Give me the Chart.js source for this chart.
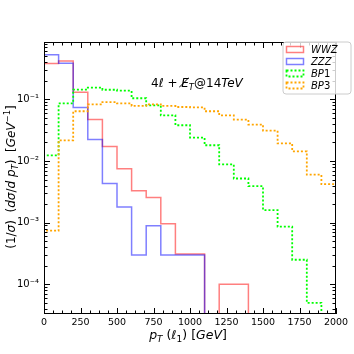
<!DOCTYPE html>
<html>
<head>
<meta charset="utf-8">
<script src="https://cdn.jsdelivr.net/npm/chart.js@4.4.0/dist/chart.umd.min.js"></script>
<style>
  body { margin: 0; background: #fff; }
  #wrap { width: 354px; height: 354px; }
</style>
</head>
<body>
<div id="wrap"><canvas id="ptChart"></canvas></div>
<script>
// leading lepton pT, normalised distributions, 100 GeV bins
var binEdges = [0, 100, 200, 300, 400, 500, 600, 700, 800, 900, 1000,
    1100, 1200, 1300, 1400, 1500, 1600, 1700, 1800, 1900, 2000];

var wwz = [0.38, 0.42, 0.13, 0.047, 0.0172, 0.0075, 0.0033, 0.00255, 0.00096, 0.00031,
    0.00031, 0, 0.0001, 0.0001, 0, 0, 0, 0, 0, 0];
var zzz = [0.53, 0.385, 0.074, 0.0224, 0.0043, 0.0018, 0.0003, 0.00089, 0.0003, 0.0003,
    0.0003, 0, 0, 0, 0, 0, 0, 0, 0, 0];
var bp1 = [0.0123, 0.086, 0.144, 0.155, 0.143, 0.138, 0.104, 0.08, 0.055, 0.038,
    0.024, 0.018, 0.0088, 0.0052, 0.0039, 0.0016, 0.00086, 0.00025, 0.00005, 0];
var bp3 = [0.00074, 0.0216, 0.064, 0.083, 0.09, 0.086, 0.078, 0.083, 0.078, 0.075,
    0.074, 0.064, 0.055, 0.047, 0.039, 0.031, 0.0193, 0.0143, 0.006, 0.0042];

var seriesNames = ['WWZ', 'ZZZ', 'BP1', 'BP3'];
var xTickValues = [0, 250, 500, 750, 1000, 1250, 1500, 1750, 2000];

var FONT = "'DejaVu Sans', sans-serif";

// turn bin contents into the outline of a step histogram
function stepPoints(vals) {
    var floor = 1e-9; // empty bins fall off the bottom of the log axis
    var pts = [{x: binEdges[0], y: floor}];
    for (var i = 0; i < vals.length; i++) {
        var v = vals[i] > 0 ? vals[i] : floor;
        pts.push({x: binEdges[i], y: v});
        pts.push({x: binEdges[i + 1], y: v});
    }
    pts.push({x: binEdges[binEdges.length - 1], y: floor});
    return pts;
}

// draw a run of text pieces: [text, size, italic, dy]
function drawRich(ctx, parts, x, y, align) {
    var total = 0;
    parts.forEach(function (p) {
        ctx.font = (p[2] ? 'italic ' : '') + p[1] + 'px ' + FONT;
        p.w = ctx.measureText(p[0]).width;
        total += p.w;
    });
    var cx = x;
    if (align === 'center') cx = x - total / 2;
    if (align === 'right') cx = x - total;
    ctx.textAlign = 'left';
    ctx.textBaseline = 'alphabetic';
    parts.forEach(function (p) {
        ctx.font = (p[2] ? 'italic ' : '') + p[1] + 'px ' + FONT;
        ctx.fillText(p[0], cx, y + (p[3] || 0));
        cx += p.w;
    });
}

var styles = [
    {color: 'rgba(255, 0, 0, 0.5)', dash: [], width: 1.5},
    {color: 'rgba(0, 0, 255, 0.5)', dash: [], width: 1.5},
    {color: '#00ff00', dash: [2, 2], width: 1.8},
    {color: '#ffa500', dash: [2, 2], width: 1.8}
];

var decorations = {
    id: 'decorations',
    afterDraw: function (chart) {
        var ctx = chart.ctx;
        var a = chart.chartArea;
        var xs = chart.scales.x;
        var ys = chart.scales.y;
        ctx.save();
        ctx.strokeStyle = '#000';
        ctx.lineWidth = 1;

        function seg(x1, y1, x2, y2) {
            ctx.beginPath();
            ctx.moveTo(x1, y1);
            ctx.lineTo(x2, y2);
            ctx.stroke();
        }

        // inward ticks on all four sides
        for (var v = 0; v <= 2000; v += 62.5) {
            var px = Math.round(xs.getPixelForValue(v)) + 0.5;
            var len = (v % 250 === 0) ? 6 : 3.5;
            seg(px, a.bottom, px, a.bottom - len);
            seg(px, a.top, px, a.top + len);
        }
        for (var e = -5; e <= 0; e++) {
            for (var m = 1; m < 10; m++) {
                var val = m * Math.pow(10, e);
                if (val < ys.min || val > ys.max) continue;
                var py = Math.round(ys.getPixelForValue(val)) + 0.5;
                var l = (m === 1) ? 6 : 3.5;
                seg(a.left, py, a.left + l, py);
                seg(a.right, py, a.right - l, py);
            }
        }
        ctx.strokeRect(a.left + 0.5, a.top + 0.5, a.right - a.left - 1, a.bottom - a.top - 1);

        ctx.fillStyle = '#000';
        // x axis title
        drawRich(ctx, [['p', 12.5, true], ['T', 9, true, 3], [' (', 12.5, false], ['\u2113', 12.5, true],
            ['1', 9, false, 3], [') [', 12.5, false], ['GeV', 12.5, true], [']', 12.5, false]],
            188, 339, 'center');

        // y axis title, rotated
        ctx.save();
        ctx.translate(14.5, 177);
        ctx.rotate(-Math.PI / 2);
        drawRich(ctx, [['(1/', 12, false], ['\u03c3', 12, true], [')  (', 12, false], ['d\u03c3', 12, true],
            ['/', 12, false], ['d p', 12, true], ['T', 8.5, true, 3], [')  [', 12, false],
            ['GeV', 12, true], ['\u22121', 8.5, false, -5], [']', 12, false]], 0, 0, 'center');
        ctx.restore();

        // process label
        drawRich(ctx, [['4', 12, false], ['\u2113', 12, true], [' + ', 12, false], ['E\u0338', 12, true],
            ['T', 8.5, true, 3], ['@14', 12, false], ['TeV', 12, true]], 151, 87, 'left');

        // legend box
        var bx = 283, by = 42, bw = 68, bh = 52, r = 3;
        ctx.beginPath();
        ctx.moveTo(bx + r, by);
        ctx.arcTo(bx + bw, by, bx + bw, by + bh, r);
        ctx.arcTo(bx + bw, by + bh, bx, by + bh, r);
        ctx.arcTo(bx, by + bh, bx, by, r);
        ctx.arcTo(bx, by, bx + bw, by, r);
        ctx.closePath();
        ctx.fillStyle = 'rgba(255, 255, 255, 0.8)';
        ctx.fill();
        ctx.strokeStyle = '#cccccc';
        ctx.stroke();

        var rowY = [49.5, 61.5, 73.5, 85.5];
        for (var i = 0; i < seriesNames.length; i++) {
            var s = styles[i];
            ctx.strokeStyle = s.color;
            ctx.lineWidth = s.width;
            ctx.setLineDash(s.dash);
            ctx.strokeRect(286.5, rowY[i] - 3, 17, 6);
            ctx.setLineDash([]);
            ctx.fillStyle = '#000';
            var name = seriesNames[i];
            var parts = name.charAt(2) >= '0' && name.charAt(2) <= '9'
                ? [[name.slice(0, 2), 10, true], [name.slice(2), 10, false]]
                : [[name, 10, true]];
            drawRich(ctx, parts, 311, rowY[i] + 3.5, 'left');
        }
        ctx.restore();
    }
};

var datasets = [wwz, zzz, bp1, bp3].map(function (vals, i) {
    return {
        label: seriesNames[i],
        data: stepPoints(vals),
        borderColor: styles[i].color,
        borderWidth: styles[i].width,
        borderDash: styles[i].dash,
        backgroundColor: 'rgba(0, 0, 0, 0)',
        pointRadius: 0,
        tension: 0,
        fill: false,
        order: 4 - i
    };
});

var ctx = document.getElementById('ptChart').getContext('2d');
var chart = new Chart(ctx, {
    type: 'line',
    data: {datasets: datasets},
    options: {
        responsive: true,
        maintainAspectRatio: false,
        animation: false,
        layout: {padding: {top: 42, right: 18, left: 0, bottom: 0}},
        plugins: {legend: {display: false}, tooltip: {enabled: false}},
        scales: {
            x: {
                type: 'linear',
                min: 0,
                max: 2000,
                afterFit: function (scale) { scale.height = 40; },
                afterBuildTicks: function (scale) {
                    scale.ticks = xTickValues.map(function (v) { return {value: v}; });
                },
                grid: {drawOnChartArea: false, drawTicks: false},
                border: {display: false},
                ticks: {
                    autoSkip: false,
                    maxRotation: 0,
                    padding: 3,
                    color: '#000',
                    font: {family: FONT, size: 9.5},
                    callback: function (value) { return String(value); }
                }
            },
            y: {
                type: 'logarithmic',
                min: 3.3e-5,
                max: 0.85,
                afterFit: function (scale) { scale.width = 44; },
                grid: {drawOnChartArea: false, drawTicks: false},
                border: {display: false},
                ticks: {
                    autoSkip: false,
                    padding: 5,
                    color: '#000',
                    font: {family: FONT, size: 10},
                    callback: function (value) {
                        var p = Math.log10(value);
                        if (Math.abs(p - Math.round(p)) > 1e-6) return '';
                        var sup = {'1': '\u00b9', '2': '\u00b2', '3': '\u00b3', '4': '\u2074', '5': '\u2075'};
                        return '10\u207b' + sup[String(-Math.round(p))];
                    }
                }
            }
        }
    },
    plugins: [decorations]
});
</script>
</body>
</html>
